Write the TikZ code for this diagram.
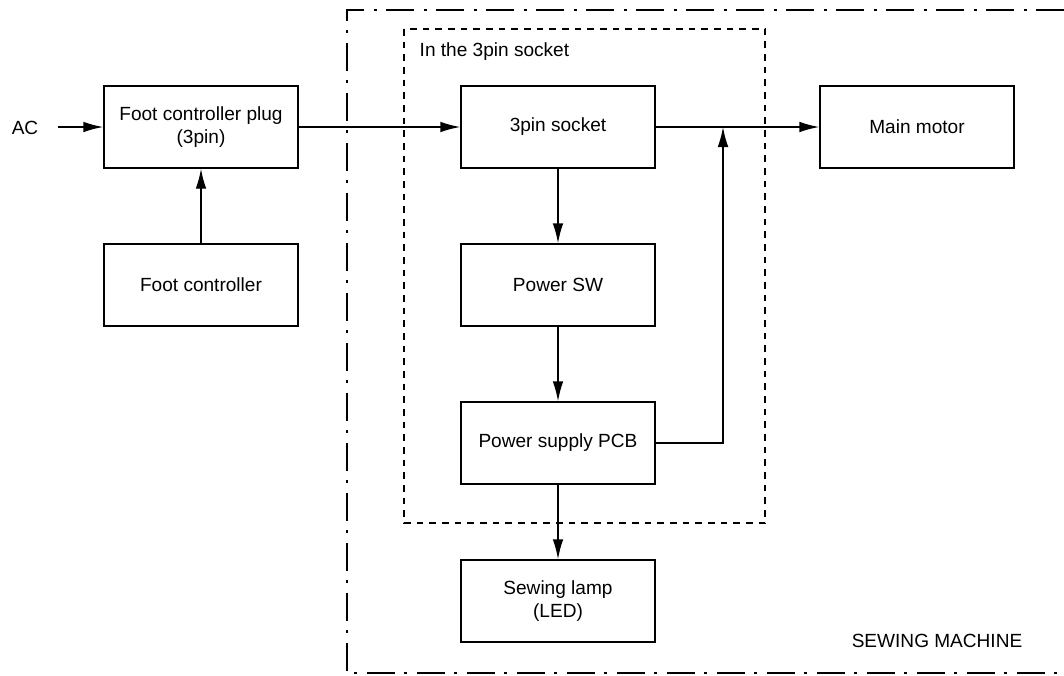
\documentclass[tikz,border=0pt]{standalone}
\usepackage{fontspec}
\setmainfont{Liberation Sans}
\usepackage{tikz}
\usetikzlibrary{arrows.meta, positioning}
\tikzstyle{blk} = [draw, rectangle, line width=1.1pt, minimum width=145.5pt,
   minimum height=61.5pt, align=center, font=\fontsize{14.3}{17.5}\selectfont]
\tikzstyle{sig} = [line width=1.1pt, -{Latex[length=15pt,width=8pt]}]
\tikzstyle{lbl} = [font=\fontsize{14.3}{17.5}\selectfont]
\tikzstyle{outerFrame} = [line width=1.1pt, dash pattern=on 21pt off 7pt on 2pt off 7.5pt]
\tikzstyle{innerFrame} = [line width=1.1pt, dash pattern=on 5pt off 4.5pt]

\begin{document}
\begin{tikzpicture}[x=0.75pt, y=-0.75pt, node distance=118.5pt]
  \useasboundingbox (0,0) rectangle (1064,675);

  % blocks
  \node[blk] (fp) at (201,127) {Foot controller plug\\(3pin)};
  \node[blk, below of=fp] (fc) {Foot controller};
  \node[blk] (s) at (558,127) {3pin socket};
  \node[blk, below of=s] (sw) {Power SW};
  \node[blk, below of=sw] (pcb) {Power supply PCB};
  \node[blk, below of=pcb] (lamp) {Sewing lamp\\(LED)};
  \node[blk] (mm) at (917,127) {Main motor};

  % texts
  \node[lbl] (ac) at (25,128) {AC};
  \node[lbl, anchor=west] (insock) at (415,52) {In the 3pin socket};
  \node[lbl, anchor=east] (sm) at (1027,641) {SEWING MACHINE};
  \coordinate (acin) at (58,127);
  \coordinate (tap) at (723,127);

  % frames
  \draw[outerFrame] (1064,10) -- (347,10) -- (347,673) -- (1064,673);
  \draw[innerFrame] (404,29) rectangle (765,523);

  % arrows
  \draw[sig] (acin) -- (fp);
  \draw[sig] (fc) -- (fp);
  \draw[sig] (fp) -- (s);
  \draw[sig] (s) -- (mm);
  \draw[sig] (s) -- (sw);
  \draw[sig] (sw) -- (pcb);
  \draw[sig] (pcb) -- (lamp);
  \draw[sig] (pcb.east) -| (tap);
\end{tikzpicture}
\end{document}
